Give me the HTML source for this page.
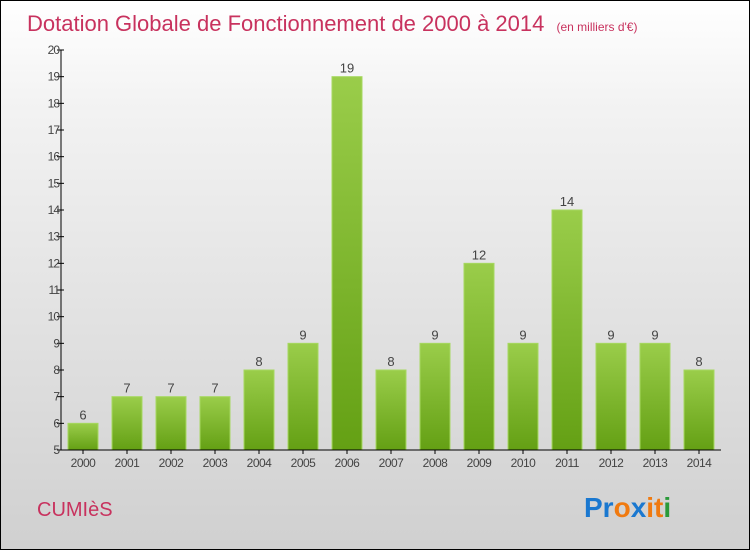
<!DOCTYPE html>
<html><head><meta charset="utf-8"><style>
body{margin:0}
#c{position:relative;width:748px;height:548px;border:1px solid #000;background:linear-gradient(#ffffff,#f2f2f2 20%,#d0d0d0);font-family:"Liberation Sans",sans-serif;overflow:hidden}
</style></head><body>
<div id="c">
<svg width="748" height="548" id="s">
<defs><linearGradient id="g" x1="0" y1="0" x2="0" y2="1"><stop offset="0" stop-color="#9acd4a"/><stop offset="1" stop-color="#64a014"/></linearGradient></defs>
<text x="26" y="30" font-size="22" fill="#c8325e">Dotation Globale de Fonctionnement de 2000 à 2014 <tspan font-size="12" dx="6">(en milliers d'€)</tspan></text>
<text x="36" y="515" font-size="20" fill="#c8325e">CUMIèS</text>
<g font-size="28" font-weight="bold" font-family="'Liberation Sans',sans-serif">
<text x="583" y="516"><tspan fill="#1a78d0">Pr</tspan><tspan fill="#f07a10">o</tspan><tspan fill="#1a78d0">x</tspan><tspan fill="#f07a10">i</tspan><tspan fill="#f07a10">t</tspan><tspan fill="#2a9a3a">i</tspan></text></g>
<g id="plot"></g>
</svg>
</div>
<script>
const years=["2000","2001","2002","2003","2004","2005","2006","2007","2008","2009","2010","2011","2012","2013","2014"];
const values=[6,7,7,7,8,9,19,8,9,12,9,14,9,9,8];
const yTicks=[5,6,7,8,9,10,11,12,13,14,15,16,17,18,19,20];
const NS="http://www.w3.org/2000/svg";
const p=document.getElementById('plot');
const x0=60,x1=720,yMin=5,yMax=20,yb=449,yt=49;
const y=v=>yb-(v-yMin)/(yMax-yMin)*(yb-yt);
const bw=(x1-x0)/years.length;
function el(t,a){const e=document.createElementNS(NS,t);for(const k in a)e.setAttribute(k,a[k]);p.appendChild(e);return e;}
yTicks.forEach(t=>{
 const l=el('line',{x1:x0-4,x2:x0+3,y1:y(t),y2:y(t),stroke:'#000'});
 
 
 const tx=el('text',{x:x0-2,y:y(t)+4,'font-size':12,'text-anchor':'end',fill:'#444','letter-spacing':'-1'});
 tx.textContent=t;
 
 
});
years.forEach((yr,i)=>{
 const cx=x0+bw*(i+0.5);
 const r=el('rect',{x:cx-15,y:y(values[i]),width:30,height:yb-y(values[i]),fill:'url(#g)',stroke:'#a6d860','stroke-width':1});
 
 
 const v=el('text',{x:cx,y:y(values[i])-4,'font-size':13,'text-anchor':'middle',fill:'#444'});
 v.textContent=values[i];
 
 
 const tk=el('line',{x1:cx,x2:cx,y1:yb,y2:yb+4,stroke:'#000'});
 
 
 const t=el('text',{x:cx,y:yb+17,'font-size':12,'text-anchor':'middle',fill:'#444','letter-spacing':'-0.5'});
 t.textContent=yr;
 
 
});
const ax=el('line',{x1:x0,x2:x0,y1:yt,y2:yb,stroke:'#000'});


const bx=el('line',{x1:x0,x2:x1,y1:yb,y2:yb,stroke:'#000'});


</script>
</body></html>
